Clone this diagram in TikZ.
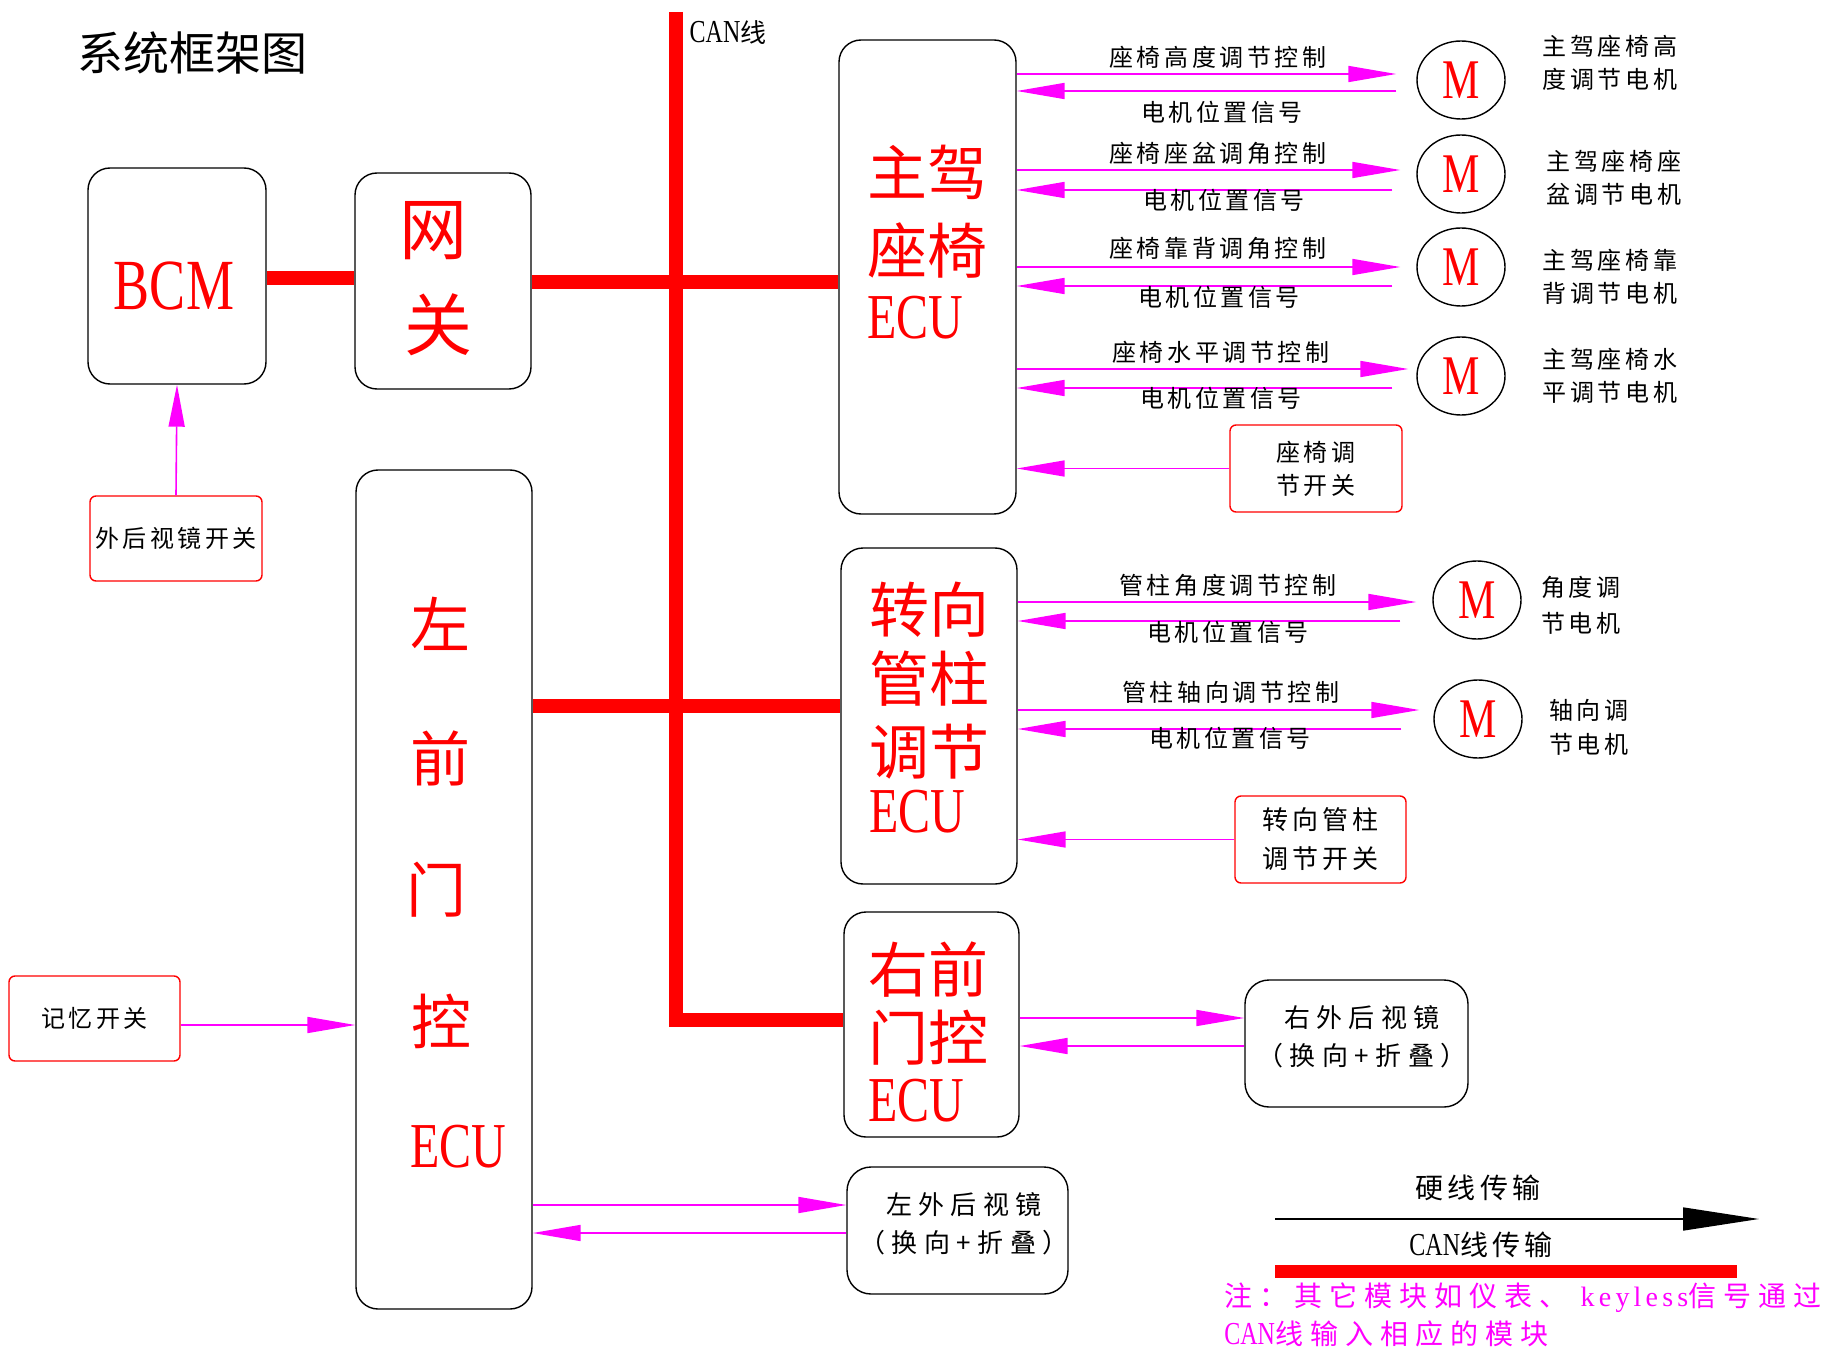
\documentclass[tikz,border=0pt]{standalone}
\usepackage{fontspec}
\usetikzlibrary{arrows.meta,shapes.geometric}
\setmainfont{Liberation Serif}
\newfontfamily\cjk{Noto Sans CJK SC}
\newfontfamily\cjks[LetterSpace=15]{Noto Sans CJK SC}
\newfontfamily\cjkw[LetterSpace=25]{Noto Sans CJK SC}
\newfontfamily\latc[FakeStretch=0.75]{Liberation Serif}
\newfontfamily\latw[LetterSpace=15]{Liberation Serif}
\newcommand\myfs[2]{\fontsize{#1}{#2}\selectfont}
\definecolor{mag}{RGB}{255,0,255}
\definecolor{rd}{RGB}{255,0,0}
\begin{document}
\begin{tikzpicture}[x=0.5pt,y=-0.5pt,
  mbox/.style={draw=black,line width=0.7pt,rounded corners=11pt,inner sep=0pt},
  rbox/.style={draw=rd,line width=0.7pt,rounded corners=3pt,inner sep=0pt,align=center},
  bigtxt/.style={text=rd,font=\cjk\myfs{30}{30},inner sep=0pt},
  ecutxt/.style={text=rd,font=\latc\myfs{32}{32},inner sep=0pt},
  lbl/.style={font=\cjks\myfs{12}{16.5},inner sep=0pt},
  motor/.style={draw=black,line width=0.7pt,ellipse,minimum width=44pt,minimum height=39pt,inner sep=0pt,text=rd,font=\latc\myfs{28}{28}},
  canbus/.style={draw=rd,line width=7pt},
  hw/.style={draw=mag,line width=0.8pt,-{Triangle[length=24pt,width=8pt]}},
]
\fill[white] (0,0) rectangle (1843,1348);
\useasboundingbox (0,0) rectangle (1843,1348);

% title
\node[font=\cjk\myfs{23}{23},inner sep=0pt] (title) at (192,53) {系统框架图};

% boxes
\node[mbox,minimum width=89pt,minimum height=108pt] (bcm) at (177,276) {};
\node[mbox,minimum width=88pt,minimum height=108pt] (gw) at (443,281) {};
\node[mbox,minimum width=88.5pt,minimum height=237pt] (ecu1) at (927.5,277) {};
\node[mbox,minimum width=88pt,minimum height=168pt] (ecu2) at (929,716) {};
\node[mbox,minimum width=87.5pt,minimum height=112.5pt] (ecu3) at (931.5,1024.5) {};
\node[mbox,minimum width=88pt,minimum height=419.5pt] (ecu4) at (444,889.5) {};
\node[mbox,rounded corners=12pt,minimum width=111.5pt,minimum height=63.5pt] (rm) at (1356.5,1043.5) {};
\node[mbox,rounded corners=12pt,minimum width=110.5pt,minimum height=63.5pt] (lm) at (957.5,1230.5) {};

% CAN bus
\coordinate (cantop) at (676,12);
\coordinate (canbend) at (676,1020);
\draw[canbus] (cantop) -- (canbend) -- (ecu3.west |- canbend);
\draw[canbus] (bcm.east |- 0,278) -- (gw.west |- 0,278);
\draw[canbus] (gw.east |- 0,282) -- (ecu1.west |- 0,282);
\draw[canbus] (ecu4.east |- 0,706) -- (ecu2.west |- 0,706);
\node[font=\cjk\myfs{13}{13},inner sep=0pt] (canlbl) at (728,33) {{\latc\myfs{16}{16}CAN}线};

% box texts
\node[text=rd,font=\latc\myfs{36}{36},inner sep=0pt] (bcmt) at (174,286) {BCM};
\node[bigtxt,font=\cjk\myfs{34}{34}] (gw1) at (433,231) {网};
\node[bigtxt,font=\cjk\myfs{34}{34}] (gw2) at (438,325) {关};

\node[bigtxt,anchor=west] (e1a) at (867,172) {主驾};
\node[bigtxt,anchor=west] (e1b) at (867,250) {座椅};
\node[ecutxt,anchor=west] (e1c) at (867,318) {ECU};

\node[bigtxt,anchor=west] (e2a) at (869,610) {转向};
\node[bigtxt,anchor=west] (e2b) at (869,679) {管柱};
\node[bigtxt,anchor=west] (e2c) at (869,752) {调节};
\node[ecutxt,anchor=west] (e2d) at (869,812) {ECU};

\node[bigtxt,anchor=west] (e3a) at (868,970) {右前};
\node[bigtxt,anchor=west] (e3b) at (868,1038) {门控};
\node[ecutxt,anchor=west] (e3c) at (868,1101) {ECU};

\node[bigtxt] (e4a) at (440,624) {左};
\node[bigtxt] (e4b) at (440,758) {前};
\node[bigtxt] (e4c) at (436,890) {门};
\node[bigtxt] (e4d) at (441,1021) {控};
\node[ecutxt] (e4e) at (458,1147) {ECU};

% switch boxes
\node[rbox,minimum width=86pt,minimum height=42.5pt,font=\cjks\myfs{12}{12}] (sw3) at (176,538.5) {外后视镜开关};
\node[rbox,minimum width=85.5pt,minimum height=42.5pt,font=\cjks\myfs{12}{12}] (sw4) at (94.5,1018.5) {记忆开关};
\node[rbox,minimum width=86pt,minimum height=43.5pt,font=\cjks\myfs{12}{16.5}] (sw1) at (1316,468.5) {座椅调\\节开关};
\node[rbox,minimum width=85.5pt,minimum height=43.5pt,font=\cjks\myfs{13}{19.5}] (sw2) at (1320.5,839.5) {转向管柱\\调节开关};

% mirror texts
\node[font=\cjkw\myfs{13}{19},align=center,inner sep=0pt] (rmt) at (1362,1037) {右外后视镜\\（换向+折叠）};
\node[font=\cjkw\myfs{13}{19},align=center,inner sep=0pt] (lmt) at (964,1224) {左外后视镜\\（换向+折叠）};

% motors
\node[motor] (m1) at (1461,80) {M};
\node[motor] (m2) at (1461,174) {M};
\node[motor] (m3) at (1461,267) {M};
\node[motor] (m4) at (1461,376) {M};
\node[motor] (m5) at (1477,600) {M};
\node[motor] (m6) at (1478,719) {M};

% motor labels
\node[lbl,align=left] (ml1) at (1610,63) {主驾座椅高\\度调节电机};
\node[lbl,align=left] (ml2) at (1614,177.5) {主驾座椅座\\盆调节电机};
\node[lbl,align=left] (ml3) at (1610,276.5) {主驾座椅靠\\背调节电机};
\node[lbl,align=left] (ml4) at (1610,375.5) {主驾座椅水\\平调节电机};
\node[lbl,align=left,anchor=west,font=\cjks\myfs{12}{18}] (ml5) at (1541,605) {角度调\\节电机};
\node[lbl,align=left,anchor=west,font=\cjks\myfs{12}{17}] (ml6) at (1549,727) {轴向调\\节电机};

% seat signal arrows
\draw[hw,shorten >=10pt] (ecu1.east |- 0,74) -- (m1.west |- 0,74);
\draw[hw,shorten <=10pt] (m1.west |- 0,91) -- (ecu1.east |- 0,91);
\draw[hw,shorten >=8pt] (ecu1.east |- 0,170) -- (m2.west |- 0,170);
\draw[hw,shorten <=12pt] (m2.west |- 0,190) -- (ecu1.east |- 0,190);
\draw[hw,shorten >=8pt] (ecu1.east |- 0,267) -- (m3.west |- 0,267);
\draw[hw,shorten <=12pt] (m3.west |- 0,286) -- (ecu1.east |- 0,286);
\draw[hw,shorten >=4pt] (ecu1.east |- 0,369) -- (m4.west |- 0,369);
\draw[hw,shorten <=12pt] (m4.west |- 0,388) -- (ecu1.east |- 0,388);
\draw[hw] (sw1.west) -- (sw1.west -| ecu1.east);

\node[lbl] (t1a) at (1218,57) {座椅高度调节控制};
\node[lbl] (t1b) at (1222,112) {电机位置信号};
\node[lbl] (t2a) at (1218,153) {座椅座盆调角控制};
\node[lbl] (t2b) at (1224,200) {电机位置信号};
\node[lbl] (t3a) at (1218,248) {座椅靠背调角控制};
\node[lbl] (t3b) at (1219,297) {电机位置信号};
\node[lbl] (t4a) at (1221,352) {座椅水平调节控制};
\node[lbl] (t4b) at (1221,398) {电机位置信号};

% steering arrows
\draw[hw,shorten >=8pt] (ecu2.east |- 0,602) -- (m5.west |- 0,602);
\draw[hw,shorten <=16pt] (m5.west |- 0,621) -- (ecu2.east |- 0,621);
\draw[hw,shorten >=7pt] (ecu2.east |- 0,710) -- (m6.west |- 0,710);
\draw[hw,shorten <=16pt] (m6.west |- 0,729) -- (ecu2.east |- 0,729);
\draw[hw] (sw2.west) -- (sw2.west -| ecu2.east);

\node[lbl] (t5a) at (1228,585) {管柱角度调节控制};
\node[lbl] (t5b) at (1228,632) {电机位置信号};
\node[lbl] (t6a) at (1231,692) {管柱轴向调节控制};
\node[lbl] (t6b) at (1230,738) {电机位置信号};

% other arrows
\draw[hw,-{Triangle[length=21pt,width=8pt]}] (sw3.north) -- (bcm.south);
\draw[hw] (sw4.east |- 0,1025) -- (ecu4.west |- 0,1025);
\draw[hw] (ecu3.east |- 0,1018) -- (rm.west |- 0,1018);
\draw[hw] (rm.west |- 0,1046) -- (ecu3.east |- 0,1046);
\draw[hw] (ecu4.east |- 0,1205) -- (lm.west |- 0,1205);
\draw[hw] (lm.west |- 0,1233) -- (ecu4.east |- 0,1233);

% legend
\node[font=\cjks\myfs{14}{14},inner sep=0pt] (leg1) at (1478,1188) {硬线传输};
\coordinate (lga) at (1275,1219);
\coordinate (lgb) at (1759,1219);
\draw[line width=0.8pt,-{Triangle[length=38pt,width=11.5pt]}] (lga) -- (lgb);
\node[font=\cjks\myfs{14}{14},inner sep=0pt] (leg2) at (1481,1245) {{\latc\myfs{16}{16}CAN}线传输};
\coordinate (lgc) at (1275,1271);
\coordinate (lgd) at (1737,1271);
\draw[canbus,line width=6.5pt] (lgc) -- (lgd);
\node[anchor=west,text=mag,align=left,font=\cjkw\myfs{14}{19},inner sep=0pt] (note) at (1224,1315)
  {注：其它模块如仪表、 {\latw keyless}信号通过\\{\latc\myfs{16}{19}CAN}线输入相应的模块};
\end{tikzpicture}
\end{document}
